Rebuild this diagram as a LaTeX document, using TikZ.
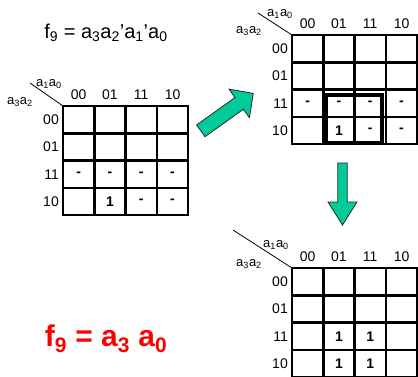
\documentclass[tikz,border=0pt]{standalone}
\usepackage{fontspec}
\setmainfont{Liberation Sans}
\usepackage{xcolor}
\usetikzlibrary{positioning}
\definecolor{arrowgreen}{RGB}{0,204,153}
\definecolor{resultred}{RGB}{255,0,0}

\begin{document}
\begin{tikzpicture}[x=1pt,y=-1pt,
    gridline/.style={line width=2.4pt, line cap=rect},
    maplabel/.style={font=\fontsize{14}{16}\selectfont, inner sep=0pt},
    varlabel/.style={font=\fontsize{13}{15}\selectfont, inner sep=0pt},
    entry/.style={font=\fontsize{14}{16}\selectfont\bfseries, inner sep=0pt},
    blockarrow/.style={fill=arrowgreen, draw=black!85, line width=0.8pt, line join=miter}]
    \useasboundingbox (0,0) rectangle (418,376);

    % the three maps
    \foreach \m/\cx/\cy/\dx/\dy/\ax/\ay in {1/63/106/-33/-23/-14/-22, 2/292/35/-34/-22/-12/-21, 3/292/268/-59/-38/-16/-23} {
        \begin{scope}[shift={(\cx,\cy)}]
            \foreach \i in {0,...,4} {
                \draw[gridline] (\i*31.3,0) -- (\i*31.3,109.2);
                \draw[gridline] (0,\i*27.3) -- (125.2,\i*27.3);
            }
            \foreach \lab [count=\k from 0] in {00,01,11,10} {
                \node[maplabel] (m\m-col\k) at (\k*31.3+15.65,-11) {\lab};
                \node[maplabel, anchor=east] (m\m-row\k) at (-4,\k*27.3+13.65) {\lab};
                \foreach \c in {0,...,3} {
                    \coordinate (m\m-\k\c) at (\c*31.3+15.65,\k*27.3+13.65);
                }
            }
            \coordinate (m\m-corner) at (0,0);
            \coordinate (m\m-slash) at (\dx,\dy);
            \draw[line width=0.8pt] (m\m-slash) -- (m\m-corner);
            \node[varlabel] (m\m-cols) at (\ax,\ay) {a\textsubscript{1}a\textsubscript{0}};
            \node[varlabel] (m\m-rows) at (-43,-4) {a\textsubscript{3}a\textsubscript{2}};
        \end{scope}
    }

    % entries
    \foreach \m in {1,2} {
        \foreach \cell/\txt in {20/-,21/-,22/-,23/-,31/1,32/-,33/-} {
            \node[entry] (m\m-e\cell) at (m\m-\cell) {\txt};
        }
    }
    \foreach \cell in {21,22,31,32} {
        \node[entry] (m3-e\cell) at (m3-\cell) {1};
    }

    % grouping in the second map
    \draw[line width=4pt] (326.3,95) rectangle (382.3,143);

    % formulas
    \node[font=\fontsize{20}{24}\selectfont] (title) at (106,33) {f\textsubscript{9} = a\textsubscript{3}a\textsubscript{2}’a\textsubscript{1}’a\textsubscript{0}};
    \node[font=\fontsize{30}{34}\selectfont\bfseries, text=resultred] (result) at (106,339) {f\textsubscript{9} = a\textsubscript{3} a\textsubscript{0}};

    % arrows
    \begin{scope}[shift={(200.8,130.8)}, rotate=35.5]
        \draw[blockarrow] (0,-7.2) -- (47.2,-7.2) -- (47.2,-17.5) -- (64.5,0) -- (47.2,17.5) -- (47.2,7.2) -- (0,7.2) -- cycle;
    \end{scope}
    \begin{scope}[shift={(342.5,163)}, rotate=-90]
        \draw[blockarrow] (0,-4.7) -- (39,-4.7) -- (39,-14.5) -- (62,0) -- (39,14.5) -- (39,4.7) -- (0,4.7) -- cycle;
    \end{scope}
\end{tikzpicture}
\end{document}
